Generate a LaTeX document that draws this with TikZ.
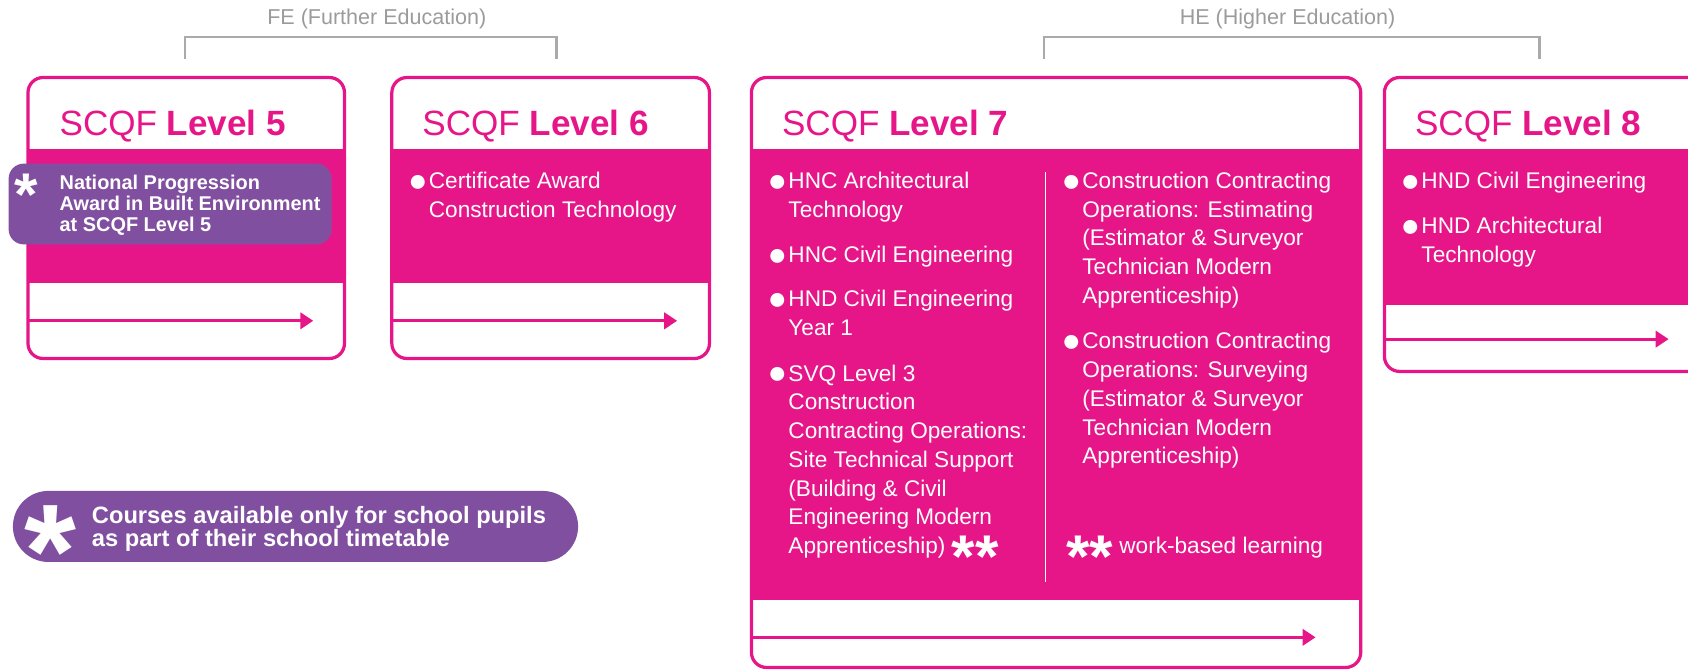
\documentclass[tikz,border=0pt]{standalone}
\usepackage{fontspec}
\setmainfont{Liberation Sans}
\usepackage{xcolor}
\usetikzlibrary{arrows.meta}
\usetikzlibrary{positioning}
\definecolor{scqfpink}{RGB}{230,22,137}
\definecolor{scqfpurple}{RGB}{128,79,160}
\definecolor{edugray}{RGB}{155,155,155}
\newcommand{\bu}{\llap{\raisebox{-1.3pt}{\fontsize{15}{15}\selectfont ●}\hspace{0.6pt}}}
\newcommand{\lvl}[1]{SCQF \textbf{Level #1}}
\newcommand{\wbl}{\raisebox{-11pt}{\fontsize{28}{28}\selectfont\bfseries **}}

\begin{document}
\begin{tikzpicture}[x=0.5pt,y=-0.5pt]
	\tikzset{levelbox/.style={draw=scqfpink, line width=1.5pt, rounded corners=7pt}}
	\tikzset{band/.style={fill=scqfpink}}
	\tikzset{flow/.style={draw=scqfpink, line width=1.5pt, -{Triangle[length=6pt,width=7.5pt]}}}
	\tikzset{title/.style={anchor=base west, inner sep=0, text=scqfpink, font=\fontsize{16.3}{16.3}\selectfont}}
	% items are placed at the baseline of their last line
	\tikzset{item/.style={anchor=base west, inner sep=0, align=left, text=white, font=\fontsize{10.5}{13.35}\selectfont}}
	\tikzset{note/.style={fill=scqfpurple, rounded corners=7pt}}
	\tikzset{bracket/.style={draw=edugray!85, line width=1pt}}
	\tikzset{group/.style={anchor=base, inner sep=0, text=edugray, font=\fontsize{10}{10}\selectfont}}
	\tikzset{star/.style={anchor=north, inner sep=0, text=white}}
	\clip (0,0) rectangle (1568,622);
	% FE and HE brackets
	\node[group] (fe) at (350,23) {FE (Further Education)};
	\node[group] (he) at (1196,23) {HE (Higher Education)};
	\coordinate (fel) at (172,55); \coordinate (fer) at (517,55);
	\coordinate (hel) at (970,55); \coordinate (her) at (1430,55);
	\draw[bracket] (fel) -- ++(0,-21) -| (fer);
	\draw[bracket] (hel) -- ++(0,-21) -| (her);
	% level 5
	\draw[levelbox] (26,72) rectangle (320,333);
	\fill[band] (26,138) rectangle (320,263);
	\node[title] (t5) at (55,126) {\lvl{5}};
	\coordinate (s5) at (26,298); \coordinate (e5) at (291,298);
	\draw[flow] (s5) -- (e5);
	\fill[note] (8,152) rectangle (308,227);
	\node[star, font=\fontsize{28}{28}\selectfont\bfseries] (st5) at (24,161) {*};
	\node[item, font=\fontsize{9.25}{9.75}\selectfont\bfseries] (npa) at (55,215) {National Progression\\Award in Built Environment\\at SCQF Level 5};
	% level 6
	\draw[levelbox] (364,72) rectangle (659,333);
	\fill[band] (364,138) rectangle (659,263);
	\node[title] (t6) at (392,126) {\lvl{6}};
	\node[item] (cert) at (398,201.7) {\bu Certificate Award\\Construction Technology};
	\coordinate (s6) at (364,298); \coordinate (e6) at (629,298);
	\draw[flow] (s6) -- (e6);
	% level 7
	\draw[levelbox] (698,72) rectangle (1264,620);
	\fill[band] (698,138) rectangle (1264,557);
	\node[title] (t7) at (726,126) {\lvl{7}};
	\node[item] (hncat) at (732,201.7) {\bu HNC Architectural\\Technology};
	\node[item] (hncce) at (732,244) {\bu HNC Civil Engineering};
	\node[item] (hndce1) at (732,311.7) {\bu HND Civil Engineering\\Year 1};
	\node[item] (svq) at (732,514.2) {\bu SVQ Level 3\\Construction\\Contracting Operations:\\Site Technical Support\\(Building \& Civil\\Engineering Modern\\Apprenticeship)\ \wbl};
	\coordinate (dt) at (971,160); \coordinate (db) at (971,541);
	\draw[white, line width=0.75pt] (dt) -- (db);
	\node[item] (est) at (1005,281.8) {\bu Construction Contracting\\Operations: Estimating\\(Estimator \& Surveyor\\Technician Modern\\Apprenticeship)};
	\node[item] (sur) at (1005,430.8) {\bu Construction Contracting\\Operations: Surveying\\(Estimator \& Surveyor\\Technician Modern\\Apprenticeship)};
	\node[item] (wbl) at (990,514) {\wbl\ work-based learning};
	\coordinate (s7) at (698,592); \coordinate (e7) at (1222,592);
	\draw[flow] (s7) -- (e7);
	% level 8
	\draw[levelbox] (1286,72) rectangle (1620,345);
	\fill[band] (1286,138) rectangle (1620,283);
	\node[title] (t8) at (1314,126) {\lvl{8}};
	\node[item] (hndce) at (1320,175) {\bu HND Civil Engineering};
	\node[item] (hndat) at (1320,243.7) {\bu HND Architectural\\Technology};
	\coordinate (s8) at (1286,315); \coordinate (e8) at (1550,315);
	\draw[flow] (s8) -- (e8);
	% legend
	\fill[note, rounded corners=16.5pt] (12,456) rectangle (537,522);
	\node[star, font=\fontsize{62}{62}\selectfont\bfseries] (st) at (47,469) {*};
	\node[item, font=\fontsize{11}{11}\selectfont\bfseries] (pupils) at (85,508) {Courses available only for school pupils\\as part of their school timetable};
\end{tikzpicture}
\end{document}
